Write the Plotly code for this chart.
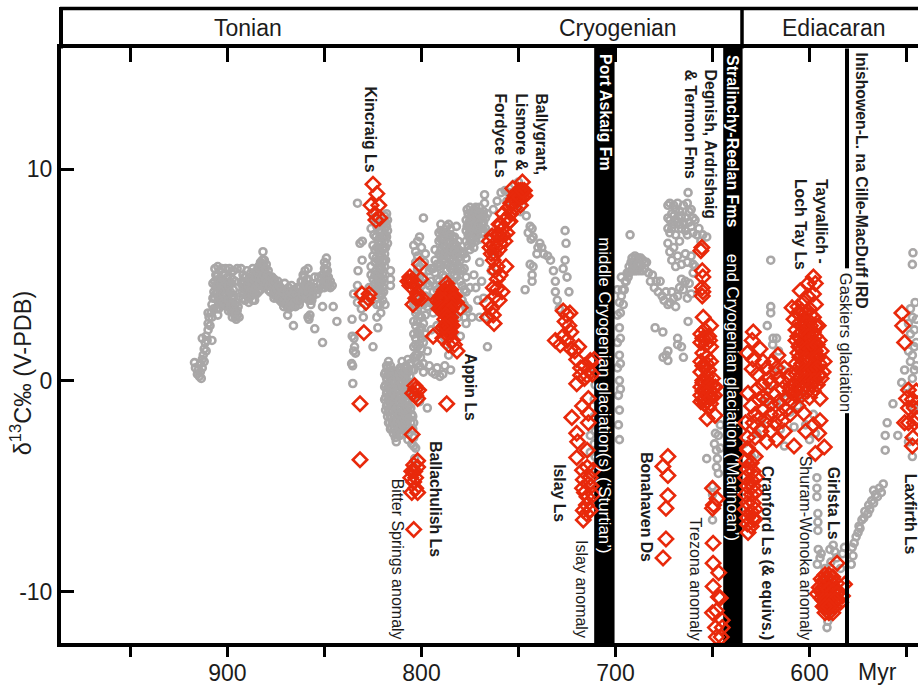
import plotly.graph_objects as go

# (age in Myr, delta13C)
gray_tonian_rise = [(917,0.85),(916.5,0.6),(915.5,0.3),(915,0.5),(914.5,0.2),(914,0.4),(914,0.8),(913.5,0.1),(913,0.6),(913,1.0),(913,2.0),(912.5,1.2),(912,0.9),(912,1.5),(911.5,1.8),(911,1.4),(911,2.1),(910.5,1.9),(910,2.4),(910,2.7),(910,3.2),(909,2.6),(909.5,3.0),(908.5,3.2),(908,1.9),(908,3.0),(908,3.6),(907.5,3.9),(907,3.4),(907,4.2),(907.5,4.6)]
gray_tonian_plateau = [(906.5,3.9),(906.5,4.7),(906.5,5.3),(905.5,3.4),(905.5,4.2),(905.5,5.0),(905,3.1),(905,4.6),(905,5.4),(904,3.7),(904,4.4),(904,5.2),(903,3.9),(903,4.8),(903,5.3),(902,4.1),(902,4.5),(902,5.0),(901,3.8),(901,4.3),(901,5.3),(900,3.6),(900,4.4),(900,4.9),(899,3.5),(899,4.1),(899,5.3),(898,3.3),(898,3.9),(898,4.6),(898,5.1),(897,3.2),(897,4.3),(897,5.2),(896,3.0),(896,3.6),(896,4.7),(895,3.1),(895,3.3),(895,5.3),(894,3.0),(894.5,3.5),(893,4.6),(893,5.3),(892,3.9),(892,4.4),(892,5.0),(891,3.8),(891,4.3),(891,4.9),(890,4.0),(890,4.6),(890,5.2),(889,3.7),(889,4.2),(889,4.8),(888,4.0),(888,4.5),(888,5.1),(887,3.8),(887,4.4),(887,5.3),(886,3.8),(886,4.6),(886,5.0),(885,4.1),(885,4.7),(885,5.2),(884,4.2),(884,4.8),(884,5.4),(883,4.3),(883,5.0),(883,5.6),(882,4.5),(882,5.2),(882,5.7),(881.7,6.1),(881,4.6),(881,5.3),(881,5.7),(880,4.5),(880,5.0),(880,5.5),(879,4.3),(879,4.8),(879,5.2),(878,4.2),(878,4.7),(877,4.4),(877,4.9),(876,3.9),(876,4.4),(876,4.8),(875,4.0),(875,4.5),(874,4.1),(874,4.7),(873,3.8),(873,4.3),(872,3.7),(872,4.2),(871,3.5),(871,4.0),(870.5,4.6),(870,3.6),(870,4.1),(869,3.5),(869,3.9),(868,3.6),(868,4.1),(867,3.5),(867,4.0),(867,4.5),(866,3.8),(866,4.3),(865,3.5),(865,3.9),(864,3.8),(864,4.4),(863,3.6),(863,4.0),(862,4.2),(862,4.7),(861,4.4),(861,5.0),(860,4.0),(860,4.6),(860,5.2),(859,4.1),(859,4.8),(858.5,5.3),(858,3.8),(858,4.5),(857,3.6),(857,4.2),(856,4.0),(855,4.4),(855,4.9),(854,4.1),(854,4.6),(853,4.3),(853,4.9),(852,4.6),(851,3.5),(851,4.4),(851,5.0),(850,4.4),(850,4.9),(850,5.3),(849,4.5),(849,5.0),(849,5.5),(849,5.8),(848,4.5),(848,4.9),(847,4.4),(847,4.7),(846,4.5),(845.5,3.5)]
gray_plateau_fill = [(906,4.1),(906,4.5),(906,5.0),(905,3.8),(905,4.2),(905,5.0),(904.5,3.4),(904.5,4.0),(904.5,4.8),(903.5,3.6),(903.5,4.2),(903.5,4.6),(902.5,3.7),(902.5,4.4),(902.5,4.8),(901.5,3.6),(901.5,4.0),(901.5,4.7),(900.5,3.5),(900.5,4.1),(900.5,4.6),(899.5,3.3),(899.5,3.8),(899.5,4.5),(898.5,3.6),(898.5,4.2),(897.5,3.0),(897.5,3.6),(897.5,4.0),(897.5,4.8),(896.5,3.3),(896.5,4.0),(896,3.2),(895.5,2.9),(895.5,3.7),(892.5,4.2),(892.5,4.7),(891.5,4.1),(891.5,4.6),(890.5,4.3),(890.5,4.9),(889.5,4.0),(889.5,4.5),(888.5,4.2),(888.5,4.8),(887.5,4.1),(887.5,4.7),(886.5,4.2),(886.5,4.8),(885.5,4.4),(885.5,4.9),(884.5,4.5),(884.5,5.1),(883.5,4.6),(883.5,5.3),(882.5,4.8),(882.5,5.5),(881.5,5.0),(881.5,5.5),(880.5,4.8),(880.5,5.3),(879.5,4.6),(879.5,5.0),(878.5,4.5),(878.5,4.9),(877.5,4.6),(876.5,4.1),(876.5,4.6),(875.5,4.2),(875.5,4.7),(874.5,3.9),(874.5,4.4),(873.5,4.0),(873.5,4.5),(872.5,3.9),(872.5,4.4),(871.5,3.7),(871.5,4.2),(870.5,3.8),(869.5,3.7),(869.5,4.2),(868.5,3.4),(868.5,3.9),(868.5,4.4),(867.5,3.7),(867.5,4.2),(866.5,3.6),(866.5,4.1),(865.5,3.7),(865.5,4.2),(864.5,3.6),(864.5,4.1),(863.5,3.8),(863.5,4.4),(862.5,3.8),(862.5,4.4),(861.5,4.1),(861.5,4.7),(860.5,4.3),(860.5,4.9),(859.5,3.9),(859.5,4.5),(858.5,4.2),(858.5,4.8),(857.5,3.9),(857.5,4.4),(856.5,3.8),(856.5,4.3),(850,5.6),(849.5,4.7),(849.5,5.2),(848.5,4.7),(848.5,5.2)]
gray_tonian_scatter = [(869,3.1),(866,2.6),(858.5,3.0),(858,2.9),(857.5,3.1),(855,2.45),(851,1.8),(843.6,2.8)]
gray_kincraig = [(833,8.4),(831.7,6.5),(830.5,6.6),(830.6,5.7),(832.7,5.2),(833,4.5),(835,4.1),(833,3.7),(831,3.4),(830,3.0),(835.8,2.9),(835.7,2.1),(834.8,2.0),(834.5,1.6),(834,1.3),(835,1.4),(836,0.8),(835.5,0.7),(835.4,-0.14),(825,1.6),(818.8,3.6),(816,5.2),(816,4.8),(816,4.5),(826.5,3.9),(827,4.4),(826,5.0),(826,5.4),(825,5.9),(825,6.4),(824.5,6.9),(824,5.0),(824,5.6),(824,6.2),(823.5,6.8),(823,7.3),(823,4.4),(823,3.6),(823,3.0),(822.5,2.5),(822,4.8),(822,5.4),(822,6.0),(822,6.6),(822,7.1),(821,4.0),(821,4.6),(821,5.3),(821,5.9),(821,6.5),(821,7.0),(820.5,7.5),(820,3.8),(820,4.4),(820,5.0),(820,5.6),(820,6.2),(820,6.8),(820,7.4),(819,5.4),(819,6.0),(819,6.6),(819,7.2),(819,7.8),(818.5,6.3),(818,6.8),(818,7.3),(818,7.9),(824.5,7.7),(826,7.2)]
gray_kincraig_fill = [(824,4.6),(823.5,5.2),(823.5,5.8),(823,6.3),(822.5,4.2),(822.5,4.6),(822.5,5.1),(822.5,5.7),(822.5,6.3),(821.5,3.6),(821.5,4.3),(821.5,5.0),(821.5,5.6),(821.5,6.2),(821.5,6.8),(821,3.2),(820.5,4.1),(820.5,4.7),(820.5,5.3),(820.5,5.9),(820.5,6.5),(820.5,7.1),(819.5,4.2),(819.5,4.8),(819.5,5.7),(819.5,6.3),(819.5,6.9),(819.5,7.5),(818.5,5.7),(818.5,6.9),(818.5,7.5),(817.5,6.5),(817.5,7.1),(817.5,7.6),(825,4.8),(825,4.2)]
gray_ballachulish = [(819,0.3),(819,-0.3),(819,-0.9),(818.5,-1.4),(818,0.7),(818,0.1),(818,-0.6),(818,-1.2),(817,0.9),(817,0.3),(817,-0.3),(817,-0.9),(817,-1.5),(817,-2.0),(816,0.7),(816,0.1),(816,-0.5),(816,-1.1),(816,-1.7),(816,-2.3),(815,0.5),(815,-0.1),(815,-0.8),(815,-1.4),(815,-2.0),(814,0.3),(814,-0.3),(814,-0.9),(814,-1.6),(814,-2.3),(813,0.4),(813,-0.5),(813,-1.1),(813,-1.8),(813,-2.5),(812,0.2),(812,-0.4),(812,-1.0),(812,-1.5),(812,-2.1),(811,0.6),(811,0.0),(811,-0.8),(811,-1.3),(811,-2.0),(811,-2.6),(810,0.9),(810,0.3),(810,-0.4),(810,-1.0),(810,-1.6),(810,-2.2),(809,0.6),(809,0.1),(809,-0.6),(809,-1.2),(809,-1.9),(808,0.7),(808,0.2),(808,-0.4),(808,-1.0),(808,-1.7),(808,-2.4),(807,1.0),(807,0.4),(807,-0.3),(807,-1.5),(807,-2.2),(806,0.8),(806,0.2),(806,-0.6),(805,0.5),(805,-1.6),(805,-2.3),(804,-2.0),(804,-2.7),(803,-3.2),(803.5,-3.7),(804,-4.1),(813,-2.9),(799,0.4),(801,-1.0),(797,-1.3),(799,0.8),(805,-0.8),(807,-2.8)]
gray_ballachulish_fill = [(818.5,0.4),(818.5,-0.2),(818.5,-0.8),(817.5,0.6),(817.5,0.0),(817.5,-0.6),(817.5,-1.2),(817.5,-1.7),(816.5,0.4),(816.5,-0.2),(816.5,-0.8),(816.5,-1.4),(816.5,-2.0),(815.5,0.2),(815.5,-0.4),(815.5,-1.0),(815.5,-1.7),(815.5,-2.2),(814.5,0.0),(814.5,-0.6),(814.5,-1.2),(814.5,-1.9),(814.5,-2.5),(813.5,-0.1),(813.5,-0.8),(813.5,-1.4),(813.5,-2.1),(813.5,-2.7),(812.5,0.1),(812.5,-0.7),(812.5,-1.3),(812.5,-1.9),(812.5,-2.5),(811.5,0.3),(811.5,-0.4),(811.5,-1.0),(811.5,-1.6),(811.5,-2.3),(810.5,0.5),(810.5,-0.1),(810.5,-0.7),(810.5,-1.3),(810.5,-1.9),(810.5,-2.5),(809.5,0.3),(809.5,-0.3),(809.5,-0.9),(809.5,-1.5),(809.5,-2.1),(808.5,0.4),(808.5,-0.1),(808.5,-0.7),(808.5,-1.4),(808.5,-2.0),(807.5,0.6),(807.5,0.0),(807.5,-0.6),(807.5,-1.2),(807.5,-1.9),(806.5,0.5),(806.5,-0.2),(806.5,-1.2),(806.5,-1.8),(806.5,-2.5),(805.5,-1.3),(805.5,-2.0),(804.5,-1.7),(804.5,-2.3),(804,-3.1),(805,-3.0)]
gray_appin_column = [(799,7.7),(801,6.8),(803,6.1),(802,6.6),(804,6.4),(800,6.3),(798,6.0),(802,5.9),(802,5.3),(803,5.0),(801,4.9),(802,4.4),(803,4.0),(801,3.6),(803,3.2),(802,2.8),(801,2.4),(803,2.0),(802,1.6),(803,1.2),(802,0.8),(801,2.2),(804,2.8),(804,1.6),(800.5,1.1),(800,3.0),(800,2.0),(799,4.9),(798.5,5.6),(798,4.0),(798,3.1),(798,2.2),(797,1.4),(796,0.7),(794.5,0.4),(793,0.3),(792,0.6),(790.5,0.2),(789,0.3),(788,0.7),(786,1.2),(785,0.5),(797,3.5),(796,4.5),(795,5.3),(795,2.4),(794,3.2),(794,4.2),(793,5.1),(793,5.7),(793,6.2),(792,2.6),(792,3.9),(792,4.8),(792,5.5),(791,6.0),(791,6.6),(791,7.0),(790,5.5),(790,6.2),(790,7.1),(790,7.4),(789,5.0),(789,5.7),(789,6.4),(789,7.0),(788,4.9),(788,5.6),(788,6.3),(788,7.0),(787,5.2),(787,5.9),(787,6.6),(787,7.3),(786,5.5),(786,6.2),(786,6.9),(786,7.4),(785,4.8),(785,5.8),(785,6.6),(785,7.2),(784,4.7),(784,5.3),(784,6.1),(784,6.8),(783,5.0),(783,5.9),(783,6.5),(782,4.9),(782,5.6),(782,6.4),(782,7.3),(781,5.4),(781,6.2),(780,4.7),(780,5.3),(780,6.0),(779,3.8),(779,4.5),(779,5.2),(779,6.1),(778,3.0),(778,3.6),(778,4.3),(778,5.3),(778,6.0),(777,2.7),(777,3.4),(777,4.2),(777,4.9),(777,5.8),(790,2.3),(788,2.0),(787,1.7),(784,2.8),(783,3.0),(781,3.0),(780,2.1),(776,3.4),(775,4.4),(774,3.0),(773,5.0),(772,4.4),(771,3.8),(770,3.0),(770,5.6),(769,4.7),(768,3.9),(767,3.0),(766,1.6)]
gray_appin_fill = [(803,5.6),(803,4.5),(803,3.6),(803,2.6),(803,1.7),(803,0.9),(802,5.0),(802,3.9),(802,3.3),(802,2.3),(802,1.2),(801,5.4),(801,4.2),(801,3.1),(801,1.7),(801,0.7),(800,4.5),(800,3.6),(800,2.5),(800,1.5),(804,3.6),(804,2.2),(804,1.1),(804,0.5),(799,3.6),(799,2.7),(799,1.8),(790,6.7),(790,5.9),(789,6.0),(789,6.7),(788,6.0),(788,6.7),(787,5.5),(787,6.3),(787,7.0),(786,5.9),(786,6.5),(785,5.3),(785,6.2),(785,6.9),(784,5.7),(784,6.4),(783,5.4),(783,6.2),(783,6.8),(782,5.2),(782,6.0),(781,5.8),(781,6.6),(780,5.7),(795,4.7),(795,3.8),(794,5.3),(793,4.5),(793,3.6),(796,5.2),(796,3.7),(797,4.6),(792,4.3),(791,4.7),(791,5.4)]
gray_upper_blob = [(777,7.6),(777,7.1),(777,6.6),(776.5,8.1),(776,7.9),(776,7.4),(776,6.9),(776,6.4),(775,8.2),(775,7.7),(775,7.2),(775,6.7),(775,6.2),(774,8.0),(774,7.6),(774,7.0),(774,6.5),(773,8.1),(773,7.5),(773,7.0),(773,6.3),(772,8.2),(772,7.7),(772,7.2),(772,6.6),(771,8.0),(771,7.5),(771,6.9),(770,8.2),(770,7.7),(770,7.2),(770,6.7),(769,7.9),(769,7.4),(769,7.0),(768,8.0),(768,7.5),(768,7.0),(767.5,8.8),(767.5,8.4),(767,7.7),(767,7.2),(766,7.9),(765,7.0),(764,6.1),(764,5.2),(763,8.1),(761,8.5),(759,8.9),(757,9.0),(756,8.5),(755,8.9),(752,9.3),(750,9.4),(749,8.0),(748,8.3),(746,7.8),(745,7.0),(744,7.3),(743.5,6.7),(743,7.2),(742.5,6.8),(740,6.3),(739,6.5),(738,6.3),(737,6.0),(735,5.9),(733.5,5.7),(744,5.5),(743,5.0),(742.5,5.4),(743,4.7),(746.6,4.3),(740.5,6.0),(726,7.1),(725.5,6.5),(732,5.2),(731,4.7),(731,4.2),(730,3.8),(729,3.4),(727,5.3),(726,5.7),(725,4.9),(724,4.2),(776.5,7.3),(775.5,7.5),(775.5,6.9),(774.5,7.9),(774.5,7.3),(774.5,6.8),(773.5,7.8),(773.5,7.2),(773.5,6.7),(772.5,8.0),(772.5,7.4),(772.5,6.9),(771.5,7.8),(771.5,7.2),(770.5,7.9),(770.5,7.4),(769.5,7.7),(769.5,7.2),(768.5,7.7),(768.5,7.2)]
gray_bar_edge = [(711,-1.7),(710.5,-2.4),(711,-3.0),(710.5,-3.6),(711,-0.9),(710.5,-0.2),(711,0.6),(710.5,-4.2),(713,-2.6),(713,-3.4)]
gray_cryo_mid = [(699,4.3),(698,3.7),(699,3.1),(698,2.5),(699,1.8),(698,1.2),(699,0.6),(698,0.0),(698.5,-0.7),(698,-1.4),(698.5,-2.1),(698,-2.8),(697,4.9),(696.5,4.3),(696,3.6),(695,4.7),(694,5.1),(693,5.4),(692.5,6.9),(692,5.2),(691.5,5.8),(691,5.4),(690,5.9),(689,5.5),(688,5.8),(687,5.5),(686,5.7),(685,5.3),(684,5.6),(683,5.1),(682,4.7),(681,5.0),(680,4.4),(679,4.7),(678,4.2),(677,4.7),(676,4.0),(675,3.8),(674,4.2),(673,3.6),(672,3.7),(671,4.2),(670,3.9),(669,3.5),(668,4.0),(667,4.4),(666,4.8),(665,4.3),(664,4.7),(663,3.9),(662,4.6),(661,4.1),(660,5.1),(659,5.4),(679.6,2.5),(675.6,2.3),(668,2.0),(666,1.6),(673,1.4),(675.5,1.1),(673,0.95),(665,1.1),(662.6,2.8),(668,1.7),(674,1.2),(673,6.5),(672,6.1),(671,5.7),(670,6.3),(669,5.4),(668,5.9),(667,6.6),(666,5.5),(664,6.0),(663,5.6),(661,5.9),(660,5.5),(692,5.6),(691,5.2),(690.5,5.5),(690,5.2),(689.5,5.8),(689,5.2),(688.5,5.5),(687.5,5.2),(687,5.8),(686,5.2),(685,5.6),(695.5,4.3),(694.5,4.7),(693.5,4.9),(693,5.1),(697,4.0),(697.5,3.2),(697.5,2.0),(697.5,0.8),(697.5,-0.4)]
gray_cryo_upper = [(673,8.3),(673,7.7),(672,8.4),(671,7.9),(670,7.4),(672,7.0),(670,8.3),(669,6.9),(668,8.4),(668,7.5),(667,8.0),(666,7.2),(665,8.3),(664,7.7),(663,8.4),(663,6.9),(662.6,8.9),(662,7.5),(661,8.1),(660,7.0),(659,7.6),(658,6.9),(657,7.2),(656,6.6),(655,6.9),(653,6.8),(673,7.2),(672,7.6),(671,7.2),(670,7.8),(669,7.6),(669,8.1),(667,7.4),(666,7.8),(665,7.5),(664,7.1),(662,8.0),(661,7.3),(660,7.7)]
gray_trezona = [(653,-3.7),(648,-3.3),(647.5,-3.7),(648,-4.1),(647,-4.4),(649,-3.0),(646,-3.2),(650,-5.0),(650,-5.4),(650,-6.6),(647,-2.6),(646,-2.1),(648.5,-2.5)]
gray_ediacaran = [(620,5.7),(620,3.5),(620,3.2),(621.8,2.6),(618.8,2.0),(619,1.7),(617,2.0),(616,1.4),(614,0.5),(612,-0.9),(610,-1.5),(608,-2.2),(606,-1.2),(604,-0.7),(602,-2.1),(600,-2.8),(598,-1.6),(597,-2.5),(628,-3.5),(627,-2.5),(625,-2.0),(623,-1.0),(621,-0.4),(619,0.4),(617,-1.1),(615,-2.3),(613,-3.1),(634,-3.0),(632,-4.0),(630,-3.6)]
gray_girlsta = [(596.2,-4.6),(596.2,-5.1),(596.2,-5.5),(595.7,-6.3),(595.7,-6.7),(595.7,-7.1),(587.8,-7.8),(594.6,-8.4),(595.5,-8.0),(594,-8.2),(590.6,-11.4),(591,-11.7),(590.2,-11.1),(591,-9.3),(589,-8.6),(586,-8.4),(587,-8.1),(582,-7.9),(584,-8.9),(589.5,-8.0),(583,-8.2),(592,-8.9),(596,-8.7)]
gray_post_gaskiers = [(578.5,-8.7),(577.6,-8.3),(578,-7.9),(577,-7.7),(576,-7.4),(575,-7.2),(574.5,-6.9),(574,-7.0),(573,-6.6),(572,-6.5),(571.5,-6.2),(570,-6.3),(569.5,-5.9),(569,-6.1),(568,-5.7),(567,-5.8),(566,-5.4),(565,-5.5),(564,-5.1),(563,-5.3),(562,-4.9),(567,-5.2)]
gray_right = [(561,-3.3),(560,-2.0),(561,-2.6),(554.5,-2.6),(557,-1.1),(552.5,-0.1),(546.7,6.05),(547,5.5),(545.6,3.7),(548,3.4),(547,3.0),(546,2.4),(545,2.9),(548,2.2),(546,1.6),(547,1.2),(545,1.8),(548,0.9),(546,0.5),(547,0.1),(545,0.7),(551,0.5),(550,-0.3),(549,1.4),(549,2.7),(547,-3.6),(549,-2.9),(546,-1.3)]

red_kincraig = [(825,9.3),(823,8.85),(826,8.3),(822,8.3),(824,7.9),(821.5,7.7),(823.5,7.6),(830.7,4.1),(827.5,3.9),(827,4.1),(828.6,3.7),(829.7,2.27),(831.7,-1.1),(831.7,-3.75)]
red_appin_left = [(801,5.5),(807,4.7),(806,4.9),(806,4.5),(805.5,4.7),(800.4,4.8),(803,4.6),(801.8,3.9),(803,3.9),(804.4,3.6),(800,3.9),(802,4.1)]
red_appin_main = [(787,4.6),(788,4.3),(786,4.2),(785,4.3),(790,4.0),(789,3.9),(788,4.0),(787,4.0),(786,3.9),(785,3.9),(784,4.0),(783,4.0),(792,3.8),(791,3.7),(790,3.6),(789,3.7),(788,3.5),(787,3.6),(786,3.6),(785,3.5),(784,3.7),(783,3.6),(782,3.7),(780,3.45),(786,2.8),(785,3.0),(787,2.7),(788,2.9),(789,2.5),(787,2.4),(786,2.5),(785,2.3),(784,2.6),(786,2.1),(794,2.1),(789,2.0),(784,1.9),(786,1.7),(781.7,1.4),(783,1.7)]
red_appin_fill = [(788.5,4.2),(787.5,4.2),(786.5,4.4),(785.5,4.1),(789.5,3.8),(788.5,3.8),(787.5,3.8),(786.5,3.7),(785.5,3.7),(784.5,3.8),(783.5,3.8),(790.5,3.9),(791,3.4),(789.5,3.4),(788.5,3.3),(787.5,3.4),(786.5,3.3),(785.5,3.3),(784.5,3.4),(787.5,3.1),(786.5,3.0),(787.5,2.6),(786,2.7),(785.5,2.6),(786.5,2.3),(785,2.8),(788,2.6)]
red_appin_low = [(803,-0.4),(804.5,-0.6),(803.5,-0.25),(801.5,-0.45),(802,-0.85),(803,-0.7),(787,-1.1)]
red_ballachulish = [(804.8,-2.55),(802,-3.8),(804,-4.0),(802,-4.1),(805,-4.3),(803.5,-4.3),(803,-4.6),(805.5,-4.6),(804,-4.8),(805,-5.3),(802,-5.3),(803,-5.1),(804,-7.05)]
red_ballygrant = [(766,3.0),(763,3.1),(762.6,2.7),(764,3.4),(766,3.65),(760,3.8),(762,4.0),(761,4.35),(758.5,4.2),(763,4.4),(761,4.8),(759.5,5.0),(763,5.7),(761,5.4),(756.5,5.4),(762,5.2),(764.7,6.3),(763.6,6.85),(763,6.4),(765,6.6),(761,6.6),(762,6.0),(759.5,6.5),(760,6.9),(757,6.6),(758,7.2),(759,7.4),(756,7.0),(754.4,7.55),(756,7.7),(758,7.9),(755,8.2),(754,7.9),(753.3,8.4),(751.8,8.75),(752,8.2),(749,9.0),(750,8.6),(748,8.7),(746.7,8.75),(753,9.1),(750,9.0),(748,9.4),(749,8.3),(747,9.0),(751,8.9),(762,6.3),(761,6.9),(760,6.2),(758,6.9),(757,7.6),(755,7.5),(754,8.4),(752.5,8.6),(751,8.5),(749.5,8.7),(748,9.0),(764,6.0),(760,7.4)]
red_islay = [(727,3.3),(725,3.1),(723.5,3.2),(726,2.8),(724,2.6),(731,1.9),(728.5,1.7),(727,2.1),(725,1.9),(723,2.3),(721,1.4),(723,1.5),(720,1.0),(719,1.6),(713,0.95),(716,0.7),(711,1.0),(718,0.25),(716,0.1),(714,0.5),(712,0.3),(714.7,0.24),(720,-0.15),(718,0.6),(714,-0.85),(717,-1.2),(722.5,-1.75),(714,-1.55),(714,-2.0),(720,-2.5),(719.5,-2.9),(714.6,-3.3),(720,-3.65),(714.6,-4.1),(711.5,-4.25),(717,-4.25),(716.6,-4.7),(713,-4.6),(711.5,-5.4),(717,-5.1),(714.7,-5.5),(716,-5.3),(712.5,-5.0),(714,-4.9),(716.6,-6.15),(713,-6.15),(716.6,-6.6),(715,-6.3),(715,-5.9)]
red_bonahaven = [(673,-3.6),(675.6,-4.07),(673,-4.5),(673,-5.45),(674,-6.05),(674,-7.5),(675.5,-8.4)]
red_trezona = [(650,-5.1),(647.7,-5.6),(649.5,-5.9),(650,-6.05),(649.7,-7.7),(649.7,-8.65),(646.8,-9.1),(649.7,-9.75),(647,-10.25),(646,-10.3),(650,-11),(648,-10.9),(645,-11.35),(648.5,-11.7),(645,-11.7),(648,-12.15),(645.5,-12.15)]
red_degnish = [(656,6.15),(655.5,6.3),(655.3,5.2),(655,4.9),(655.3,4.4),(655,4.2),(655.3,4.0),(654.8,3.0),(651,2.6),(656,2.2),(654,2.4),(652,2.1),(656,1.8),(653.5,1.7),(651,1.6),(655,1.3),(653,1.1),(656,0.9),(654,0.6),(652,0.5),(656,0.4),(653,0.2),(655,-0.1),(652,-0.1),(650,0.1),(656,-0.3),(654,-0.4),(651,-0.5),(648.5,-0.3),(656,-0.7),(654,-0.8),(652,-0.8),(650,-0.8),(649,-0.7),(656,-1.0),(654,-1.1),(651,-1.1),(652.8,-1.8),(648.7,-1.65),(655,2.0),(653,2.0),(651.5,1.9),(655,0.7),(653,0.8),(651,0.9),(655,0.0),(653,-0.3),(651,-0.2),(649.5,-0.3),(655,-0.5),(653,-0.6),(651,-0.8),(655,-0.9),(653,-1.0),(652,-1.3)]
red_cranford_top = [(629,2.3),(629.6,1.9),(625.5,1.5),(632,1.3),(629,1.0),(616.3,1.2),(629.6,0.55),(627,0.3),(622,0.6),(619,0.9),(624,-0.2),(620,-0.1),(616,0.1),(631.7,-0.6),(626,-0.9),(622,-0.9),(618,-0.7),(614,-0.4),(612,-0.8),(628,-1.6),(624,-1.4),(620,-1.6),(615,-1.6),(612,-1.4),(633,-2.0),(629,-2.0),(625,-2.4),(620,-2.4),(632,-2.7),(628,-2.7),(622,-2.9),(632,-3.3),(617,-2.8),(613,-2.4),(608,-3.1),(609,-1.0),(606,-1.2),(603,-1.55),(594.6,-0.85),(594.6,-1.9),(602,-2.4),(595.3,-2.5),(592.4,-3.15),(597,-3.45),(598,-2.1),(600,-0.8),(608,-0.6),(611,0.2),(613,0.6),(624,0.9),(621,0.1),(617,0.6),(627,-0.4),(614,0.0),(610,-0.3),(616,-1.0),(620,-1.1),(624,-0.8),(610,-1.6),(618,-2.0),(626,-1.8),(630,-1.2),(622,-1.9),(614,-1.9)]
red_tayvallich = [(598,4.9),(597,4.6),(600.6,4.6),(604.8,4.25),(598,4.1),(601,4.0),(603,3.7),(606,3.5),(609,3.45),(600,3.4),(597,3.6),(605,3.1),(608,2.9),(603,2.9),(600,2.8),(598,3.0),(607,2.4),(604,2.3),(601,2.4),(598,2.3),(595.5,2.6),(607,1.9),(604,1.8),(601,1.8),(598,1.8),(595,1.9),(606,1.3),(603,1.3),(600,1.3),(597,1.4),(594,1.4),(607,0.8),(604,0.8),(601,0.8),(598,0.8),(595,0.8),(592.5,0.9),(607,0.3),(604,0.3),(601,0.3),(598,0.3),(595,0.3),(593,0.4),(608,-0.2),(605,-0.2),(602,-0.2),(599,-0.2),(596,-0.2),(610,-0.5),(607,-0.7),(604,-0.7)]
red_tayvallich_fill = [(606,3.2),(604,3.3),(602,3.2),(599.5,3.1),(605.5,2.7),(603.5,2.6),(601.5,2.7),(599.5,2.6),(597,2.6),(606,2.1),(604.5,2.0),(602.5,2.1),(600.5,2.1),(599,2.0),(597,2.1),(605.5,1.6),(603.5,1.5),(601.5,1.5),(599.5,1.5),(597.5,1.6),(596,1.7),(605,1.1),(603,1.0),(601,1.0),(599,1.0),(597,1.1),(595.5,1.1),(605.5,0.6),(603.5,0.5),(601.5,0.5),(599.5,0.5),(597.5,0.5),(596,0.6),(605.5,0.1),(603.5,0.0),(601.5,0.0),(599.5,0.0),(597.5,0.0),(594,0.1),(606.5,-0.4),(603.5,-0.4),(601,-0.5),(598,-0.5)]
red_cranford_low = [(632,-3.2),(633,-3.8),(630,-3.9),(628,-3.6),(632,-4.2),(629,-4.3),(633,-4.6),(630,-4.7),(627.5,-4.6),(632,-5.0),(629,-5.0),(633,-5.4),(630,-5.4),(628,-5.3),(632,-5.8),(629,-5.8),(633,-6.1),(630,-6.2),(628,-6.1),(632,-6.5),(629,-6.5),(632,-6.8),(630,-6.9),(628.5,-6.6),(631.7,-7.2)]
red_girlsta = [(585.8,-8.65),(582,-9.65),(583,-10.2),(592,-11),(596,-10.1),(592,-9.2),(594,-9.4),(590,-9.2),(588,-9.3),(586,-9.6),(595,-9.8),(593,-9.8),(591,-9.7),(589,-9.8),(587,-10),(585,-10.0),(594,-10.3),(592,-10.3),(590,-10.2),(588,-10.3),(586,-10.4),(584,-10.5),(593,-10.7),(591,-10.7),(589,-10.7),(587,-10.7),(590,-11.0),(588,-11.0),(593,-9.5),(591,-9.4),(589,-9.5),(594,-10.0),(592,-10.0),(590,-9.9),(588,-10.0),(586,-10.1),(593,-10.4),(591,-10.4),(589,-10.4),(587,-10.4),(592,-10.7),(590,-10.7)]
red_right = [(552.4,3.2),(552,2.6),(551,1.8),(549,-0.45),(545,-0.5),(550,-0.85),(547,-0.9),(549,-1.3),(546,-1.3),(549,-2.0),(546,-2.0),(551,-2.0),(546.7,-2.7),(547,-3.1),(545,-1.8)]

gray_groups = [gray_tonian_rise, gray_tonian_plateau, gray_plateau_fill, gray_tonian_scatter, gray_kincraig,
               gray_kincraig_fill, gray_ballachulish, gray_ballachulish_fill, gray_appin_column, gray_appin_fill,
               gray_upper_blob, gray_bar_edge, gray_cryo_mid, gray_cryo_upper, gray_trezona,
               gray_ediacaran, gray_girlsta, gray_post_gaskiers, gray_right]
red_groups = [red_kincraig, red_appin_left, red_appin_main, red_appin_fill, red_appin_low, red_ballachulish,
              red_ballygrant, red_islay, red_bonahaven, red_trezona, red_degnish, red_cranford_top,
              red_tayvallich, red_tayvallich_fill, red_cranford_low, red_girlsta, red_right]

x_labelled_ticks = [900, 800, 700, 600]
x_tick_labels = ["900", "800", "700", "600"]
x_minor_ticks = [950, 850, 750, 650, 550]
y_ticks = [10, 0, -10]
y_tick_labels = ["10", "0", "-10"]
x_range = [985.8, 544.1]
y_range = [-12.43, 15.75]
glaciations = [(711, 700.5), (644.5, 634.5)]   # Myr extents of the black bars

GRAY = "#a9a7a7"
RED = "#e8290b"
INK = "#1c1c1c"
FONT = "Liberation Sans, Arial, sans-serif"
W, H = 918, 696
L, T, B = 61, 47.5, 53
PH = H - T - B
PW = W - L


def px(x):
    return (x - L) / PW


def py(y):
    return (H - B - y) / PH


fig = go.Figure()
gray_pts = [p for g in gray_groups for p in g]
red_pts = [p for g in red_groups for p in g]
fig.add_trace(go.Scatter(x=[p[0] for p in gray_pts], y=[p[1] for p in gray_pts], mode="markers",
                         marker=dict(symbol="circle-open", size=7, color=GRAY, line=dict(color=GRAY, width=2.6)),
                         showlegend=False, hoverinfo="skip"))
for a, b in glaciations:
    fig.add_trace(go.Scatter(x=[a, b, b, a, a], y=[y_range[0], y_range[0], y_range[1], y_range[1], y_range[0]],
                             xaxis="x2", mode="lines", fill="toself", fillcolor="black", line=dict(width=0, color="black"),
                             showlegend=False, hoverinfo="skip"))
fig.add_trace(go.Scatter(x=[p[0] for p in red_pts], y=[p[1] for p in red_pts], xaxis="x2", mode="markers",
                         marker=dict(symbol="diamond-open", size=11, color=RED, line=dict(color=RED, width=2.6)),
                         showlegend=False, hoverinfo="skip"))

tickfont = dict(family=FONT, size=23, color=INK)
fig.update_layout(
    width=W, height=H, autosize=False, paper_bgcolor="white", plot_bgcolor="white",
    margin=dict(l=L, r=0, t=T, b=B, pad=0),
    xaxis=dict(range=x_range, showgrid=False, zeroline=False, showline=True, linecolor="black", linewidth=3.5,
               ticks="outside", ticklen=10, tickwidth=3, tickcolor="black", tickmode="array",
               tickvals=x_labelled_ticks, ticktext=x_tick_labels, tickfont=tickfont, tickangle=0,
               ticklabelstandoff=-3,
               minor=dict(tickmode="array", tickvals=x_minor_ticks, ticks="outside", ticklen=10, tickwidth=3,
                          tickcolor="black", showgrid=False)),
    xaxis2=dict(range=x_range, overlaying="x", side="top", anchor="y", showgrid=False, zeroline=False,
                showline=True, linecolor="black", linewidth=3.5, ticks="inside", ticklen=14, tickwidth=3,
                tickcolor="black", tickmode="array", tickvals=x_labelled_ticks, showticklabels=False,
                minor=dict(tickmode="array", tickvals=x_minor_ticks, ticks="inside", ticklen=14, tickwidth=3,
                           tickcolor="black", showgrid=False)),
    yaxis=dict(range=y_range, showgrid=False, zeroline=False, showline=True, linecolor="black", linewidth=4,
               ticks="inside", ticklen=13, tickwidth=3, tickcolor="black", tickmode="array",
               tickvals=y_ticks, ticktext=y_tick_labels, tickfont=tickfont),
)


def seg(x0, y0, x1, y1, w=3.5):
    fig.add_shape(type="line", xref="paper", yref="paper", x0=px(x0), x1=px(x1), y0=py(y0), y1=py(y1),
                  line=dict(color="black", width=w), layer="above")


seg(60, 8, 918, 8)
seg(61, 6.5, 61, 48, 4)
seg(742, 8, 742, 48, 3.5)
# Gaskiers bar, broken around its label
seg(847, 48, 847, 268, 4)
seg(847, 413, 847, 643, 4)


def label(text, x, top, bold=False, color=INK, size=15.8, align="center"):
    fig.add_annotation(xref="paper", yref="paper", x=px(x), y=py(top), xanchor="center", yanchor="top",
                       text=f"<b>{text}</b>" if bold else text, textangle=90, showarrow=False, align=align,
                       font=dict(family=FONT, size=size, color=color))


for text, x, top in [("Kincraig Ls", 371, 84), ("Ballygrant,<br>Lismore &<br>Fordyce Ls", 521, 91),
                     ("Degnish, Ardrishaig<br>& Termon Fms", 700, 67), ("Tayvallich -<br>Loch Tay Ls", 811, 176),
                     ("Inishowen-L. na Cille-MacDuff IRD", 862, 50), ("Appin Ls", 471, 351),
                     ("Ballachulish Ls", 436, 439), ("Islay Ls", 560, 462), ("Bonahaven Ds", 647, 450),
                     ("Cranford Ls (& equivs.)", 767, 463), ("Girlsta Ls", 833, 464), ("Laxfirth Ls", 910, 471)]:
    label(text, x, top, bold=True, align="left")
for text, x, top in [("Port Askaig Fm", 605, 51), ("Stralinchy-Reelan Fms", 732, 52)]:
    label(text, x, top, bold=True, color="white", size=16)
for text, x, top, size in [("middle Cryogenian glaciation(s) (‘Sturtian’)", 605, 235, 16.8),
                           ("end Cryogenian glaciation (‘Marinoan’)", 732, 251, 16.8)]:
    label(text, x, top, color="white", size=size)
for text, x, top, size in [("Gaskiers glaciation", 846, 270, 16.5), ("Bitter Springs anomaly", 397, 476, 16),
                           ("Islay anomaly", 582, 538, 16), ("Trezona anomaly", 695, 515, 16),
                           ("Shuram-Wonoka anomaly", 805, 453, 16)]:
    label(text, x, top, size=size)

for text, x in [("Tonian", 248), ("Cryogenian", 618), ("Ediacaran", 834)]:
    fig.add_annotation(xref="paper", yref="paper", x=px(x), y=py(27), xanchor="center", yanchor="middle",
                       text=text, showarrow=False, font=dict(family=FONT, size=23, color=INK))
fig.add_annotation(xref="paper", yref="paper", x=px(877), y=py(672), xanchor="center", yanchor="middle",
                   text="Myr", showarrow=False, font=dict(family=FONT, size=23, color=INK))
fig.add_annotation(xref="paper", yref="paper", x=px(21), y=py(373), xanchor="center", yanchor="middle",
                   text="δ<sup>13</sup>C‰ (V-PDB)", textangle=-90, showarrow=False,
                   font=dict(family=FONT, size=23.5, color=INK))

fig.write_html("out.html", config=dict(displayModeBar=False),
               post_script="document.body.style.margin='0';document.body.style.overflow='hidden';")
